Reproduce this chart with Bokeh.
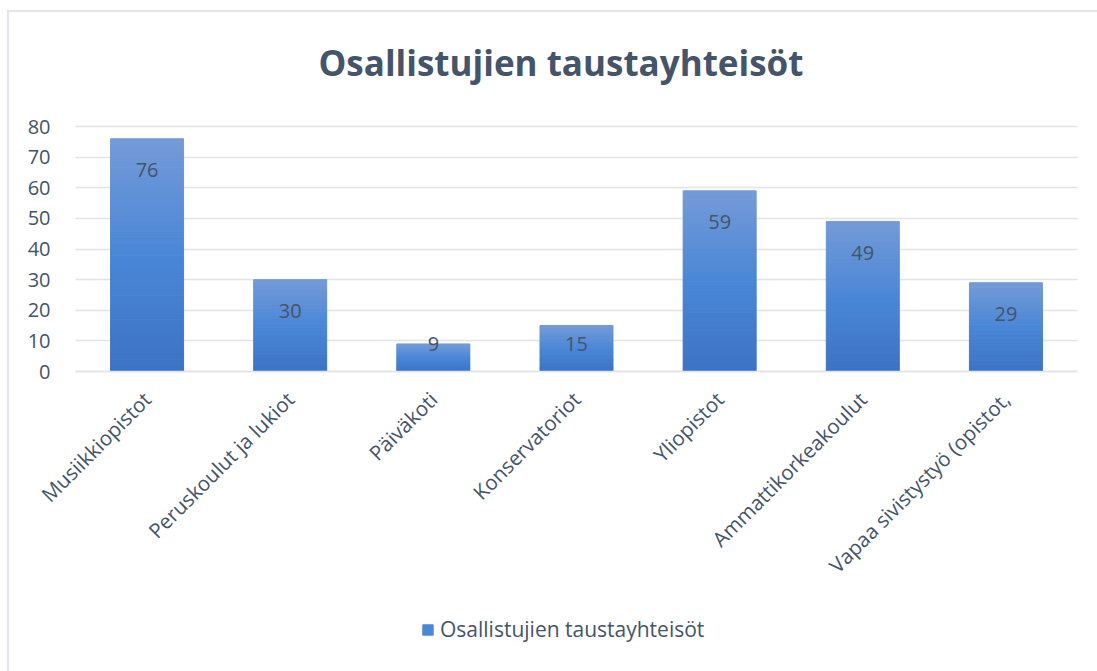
import math
from bokeh.plotting import figure
from bokeh.models import ColumnDataSource, Range1d, Legend, LegendItem, FixedTicker
from bokeh.core.properties import value
from bokeh.embed import file_html
from bokeh.resources import INLINE

# ---- data ----
categories = ["Musiikkiopistot", "Peruskoulut ja lukiot", "Päiväkoti", "Konservatoriot",
              "Yliopistot", "Ammattikorkeakoulut", "Vapaa sivistystyö (opistot,"]
values = [76, 30, 9, 15, 59, 49, 29]
series_name = "Osallistujien taustayhteisöt"
chart_title = "Osallistujien taustayhteisöt"
y_ticks = [0, 10, 20, 30, 40, 50, 60, 70, 80]

# ---- style / layout ----
TEXT = "#44546a"
FONT = "Open Sans"
GRID = "#e3e4e9"
STOPS = [(0.0, (61, 115, 196)), (0.5, (74, 134, 215)), (1.0, (116, 155, 215))]
N = 40
CANVAS_W = 1088
PX_PER_CAT = 1002 / 7         # plot-area width per category
LEFT_GAP = 66                 # canvas left edge -> plot-area left edge
PX_PER_UNIT = 3.0625          # vertical scale of the value axis
TOP_GAP = 17                  # frame top -> top gridline
FRAME_H = 562
Y_MAX = 80

n = len(categories)
xs = list(range(1, n + 1))    # category centres


def grad(t):
    for (t0, c0), (t1, c1) in zip(STOPS[:-1], STOPS[1:]):
        if t0 <= t <= t1:
            f = (t - t0) / (t1 - t0)
            return "#%02x%02x%02x" % tuple(int(round(a + (b - a) * f)) for a, b in zip(c0, c1))
    return "#%02x%02x%02x" % STOPS[-1][1]


# gradient bars built as stacked slices of each bar's own value
sx, sb, st, sc = [], [], [], []
for x, v in zip(xs, values):
    for i in range(N):
        sx.append(x)
        sb.append(v * i / N)
        st.append(v * (i + 1) / N)
        sc.append(grad((i + 0.5) / N))
bar_src = ColumnDataSource(dict(x=sx, bottom=sb, top=st, color=sc))

# data label positions (inside end, kept above the base for short bars)
label_y = [max(v - 10.2, 9.1) for v in values]
lab_src = ColumnDataSource(dict(x=xs, y=label_y, text=[str(v) for v in values]))

x_start = 0.5 - LEFT_GAP / PX_PER_CAT
y_end = Y_MAX + TOP_GAP / PX_PER_UNIT

p = figure(x_range=Range1d(x_start, x_start + CANVAS_W / PX_PER_CAT),
           y_range=Range1d(y_end - FRAME_H / PX_PER_UNIT, y_end),
           frame_width=CANVAS_W, frame_height=FRAME_H, output_backend="svg", toolbar_location=None,
           min_border_left=0, min_border_right=0, min_border_top=0, min_border_bottom=0)
p.margin = (10, 0, 0, 7)
p.styles = {"border-left": "2px solid #e4e5ea", "border-top": "2px solid #e4e5ea"}
p.outline_line_color = None
p.background_fill_color = "white"
p.border_fill_color = "white"

# horizontal gridlines limited to the plot area
p.xgrid.visible = False
g = p.ygrid[0]
if "cross_bounds" in g.properties():
    g.ticker = FixedTicker(ticks=y_ticks)
    g.cross_bounds = (0.5, n + 0.5)
    g.grid_line_color = GRID
    g.grid_line_width = 1.5
else:
    g.visible = False
    p.segment(x0=[0.5] * len(y_ticks), x1=[n + 0.5] * len(y_ticks), y0=y_ticks, y1=y_ticks,
              line_color=GRID, line_width=1.5)

bars = p.vbar(x="x", bottom="bottom", top="top", width=0.51, fill_color="color",
              line_color="color", line_width=1, source=bar_src)

p.text(x="x", y="y", text="text", source=lab_src, text_align="center", text_baseline="middle",
       text_font=value(FONT), text_font_size="20px", text_color=TEXT)

# title
p.title.text = chart_title
p.title.align = "left"
p.title.text_font = FONT
p.title.text_font_style = "bold"
p.title.text_font_size = "35px"
p.title.text_color = TEXT
p.title.vertical_align = "bottom"
p.title.standoff = 48
p.title.offset = 309

# value axis, fixed at the plot-area left edge
p.yaxis.fixed_location = 0.5
p.yaxis.ticker = FixedTicker(ticks=y_ticks)
p.yaxis.axis_line_color = None
p.yaxis.major_tick_line_color = None
p.yaxis.minor_tick_line_color = None
p.yaxis.major_label_text_font = FONT
p.yaxis.major_label_text_font_size = "20px"
p.yaxis.major_label_text_color = TEXT
p.yaxis.major_label_standoff = 19

# category axis, fixed at value 0
p.xaxis.fixed_location = 0
p.xaxis.bounds = (0.5, n + 0.5)
p.xaxis.ticker = FixedTicker(ticks=xs)
p.xaxis.major_label_overrides = {x: c for x, c in zip(xs, categories)}
p.xaxis.axis_line_color = GRID
p.xaxis.axis_line_width = 1.5
p.xaxis.major_tick_line_color = None
p.xaxis.minor_tick_line_color = None
p.xaxis.major_label_orientation = math.pi / 4
p.xaxis.major_label_text_font = FONT
p.xaxis.major_label_text_font_size = "20.5px"
p.xaxis.major_label_text_color = TEXT
p.xaxis.major_label_standoff = 18

legend = Legend(items=[LegendItem(label=series_name, renderers=[bars], index=N // 2)],
                location=(412, 28), orientation="horizontal", padding=0, margin=0,
                border_line_color=None, background_fill_alpha=0,
                glyph_width=13, glyph_height=13, label_standoff=6,
                label_text_font=FONT, label_text_font_size="21px", label_text_color=TEXT)
p.add_layout(legend)

open("out.html", "w").write(file_html(p, INLINE))
